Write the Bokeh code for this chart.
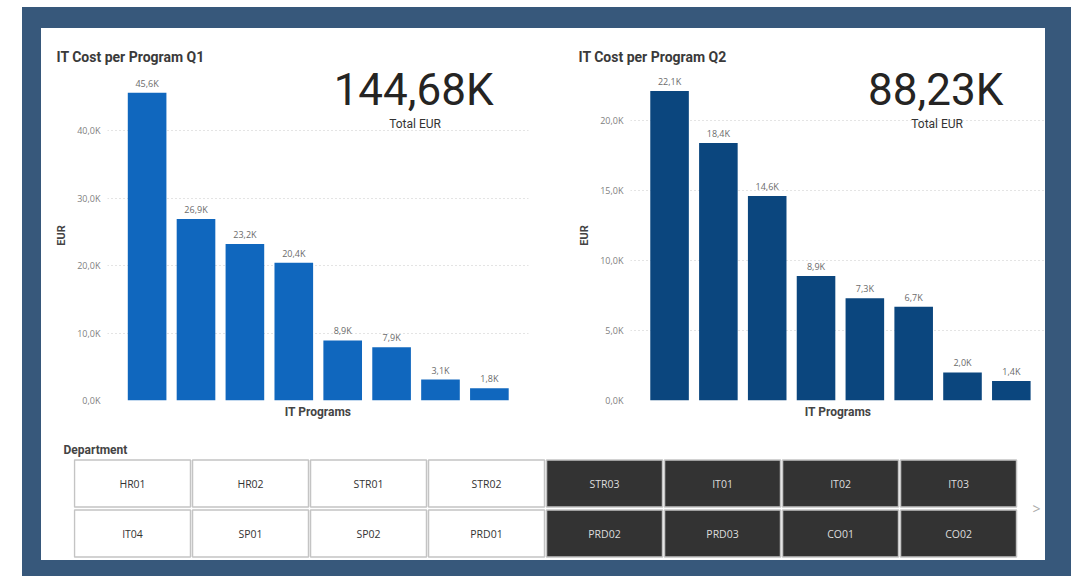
from bokeh.plotting import figure
from bokeh.models import Range1d, FixedTicker, CustomJSTickFormatter, Label, Spacer, ColumnDataSource
from bokeh.layouts import row, column
from bokeh.core.properties import value
from bokeh.embed import file_html
from bokeh.resources import INLINE

# ---------------- data ----------------
q1_values = [45.6, 26.9, 23.2, 20.4, 8.9, 7.9, 3.1, 1.8]      # thousand EUR
q2_values = [22.1, 18.4, 14.6, 8.9, 7.3, 6.7, 2.0, 1.4]       # thousand EUR
q1_total = 144.68
q2_total = 88.23
q1_ticks = [0, 10, 20, 30, 40]
q2_ticks = [0, 5, 10, 15, 20]
departments = ["HR01", "HR02", "STR01", "STR02", "STR03", "IT01", "IT02", "IT03",
               "IT04", "SP01", "SP02", "PRD01", "PRD02", "PRD03", "CO01", "CO02"]
selected = ["STR03", "IT01", "IT02", "IT03", "PRD02", "PRD03", "CO01", "CO02"]

BLUE_FRAME = "#37587b"
TITLE_FONT = "Roboto"
TEXT_FONT = "Open Sans"


def kfmt(v, digits=1):
    return f"{v:.{digits}f}".replace(".", ",") + "K"


def clean(p):
    p.outline_line_color = None
    p.outline_line_alpha = 0
    p.border_fill_color = "white"
    p.background_fill_color = "white"


def chart(title, values, total, color, x_start, x_end, y_end, ticks, width, min_left, min_right):
    p = figure(width=width, height=402,
               x_range=Range1d(x_start, x_end), y_range=Range1d(0, y_end),
               toolbar_location=None, output_backend="svg",
               min_border_left=min_left, min_border_right=min_right,
               min_border_top=42, min_border_bottom=30, title=title)
    clean(p)
    p.title.text_font = TITLE_FONT
    p.title.text_font_size = "14px"
    p.title.text_font_style = "bold"
    p.title.text_color = "#3a3a3a"
    p.title.align = "left"
    p.title.offset = -(min_left - 15)
    p.title.standoff = 11

    src = ColumnDataSource(dict(x=list(range(len(values))), v=values,
                                lbl=[kfmt(v) for v in values]))
    p.vbar(x="x", top="v", width=0.79, source=src, fill_color=color, line_color=None)
    p.text(x="x", y="v", text="lbl", source=src, text_align="center",
           text_baseline="bottom", y_offset=-3, text_font_size="9px",
           text_color="#6b6b6b", text_font=value(TEXT_FONT))

    # KPI card
    p.add_layout(Label(x=5.45, y=y_end * 0.9424, text=kfmt(total, 2), text_align="center",
                       text_baseline="alphabetic", text_font=TITLE_FONT,
                       text_font_size="44px", text_color="#252423"))
    p.add_layout(Label(x=5.48, y=y_end * 0.839, text="Total EUR", text_align="center",
                       text_baseline="middle", text_font=TITLE_FONT,
                       text_font_size="12px", text_color="#333333"))

    # axes
    p.xaxis.ticker = FixedTicker(ticks=[])
    p.xaxis.axis_line_color = None
    p.xaxis.major_tick_line_color = None
    p.xaxis.minor_tick_line_color = None
    p.xaxis.major_tick_out = 0
    p.xaxis.major_label_standoff = 0
    p.xaxis.major_label_text_font_size = "0px"
    p.xaxis.axis_label = "IT Programs"
    p.xaxis.axis_label_standoff = 4
    p.xaxis.axis_label_text_font = TITLE_FONT
    p.xaxis.axis_label_text_font_size = "12px"
    p.xaxis.axis_label_text_font_style = "bold"
    p.xaxis.axis_label_text_color = "#444444"

    p.yaxis.ticker = FixedTicker(ticks=ticks)
    p.yaxis.formatter = CustomJSTickFormatter(code="return tick.toFixed(1).replace('.', ',') + 'K';")
    p.yaxis.axis_line_color = None
    p.yaxis.major_tick_line_color = None
    p.yaxis.minor_tick_line_color = None
    p.yaxis.major_tick_out = 0
    p.yaxis.major_tick_in = 0
    p.yaxis.major_label_standoff = 7
    p.yaxis.major_label_text_font = TEXT_FONT
    p.yaxis.major_label_text_font_size = "9px"
    p.yaxis.major_label_text_color = "#808080"
    p.yaxis.axis_label = "EUR"
    p.yaxis.axis_label_standoff = 6
    p.yaxis.axis_label_text_font = TITLE_FONT
    p.yaxis.axis_label_text_font_size = "11px"
    p.yaxis.axis_label_text_font_style = "bold"
    p.yaxis.axis_label_text_color = "#444444"

    p.xgrid.visible = False
    p.ygrid.ticker = FixedTicker(ticks=ticks)
    p.ygrid.grid_line_dash = "1 3"
    p.ygrid.grid_line_color = "#c8c8c8"
    return p


q1 = chart("IT Cost per Program Q1", q1_values, q1_total, "#1067be",
           -0.81, 7.80, 48.9, q1_ticks, 522, 66, 35)
q2 = chart("IT Cost per Program Q2", q2_values, q2_total, "#0b467e",
           -0.80, 7.70, 23.57, q2_ticks, 482, 67, 0)

# ---------------- department slicer ----------------
ncol = 8
cols = [i % ncol for i in range(len(departments))]
rows = [i // ncol for i in range(len(departments))]
is_sel = [d in selected for d in departments]
ssrc = ColumnDataSource(dict(
    cx=[c + 0.5 for c in cols], cy=[r + 0.5 for r in rows], name=departments,
    fill=["#333333" if s else "#ffffff" for s in is_sel],
    tc=["#dddddd" if s else "#333333" for s in is_sel]))

s = figure(width=1004, height=130, x_range=Range1d(0, 8.237), y_range=Range1d(2, 0),
           toolbar_location=None, output_backend="svg",
           min_border_left=32, min_border_right=0, min_border_top=28, min_border_bottom=2,
           x_axis_type=None, y_axis_type=None, title="Department")
clean(s)
s.title.text_font = TITLE_FONT
s.title.text_font_size = "12px"
s.title.text_font_style = "bold"
s.title.text_color = "#444444"
s.title.align = "left"
s.title.offset = -10
s.title.standoff = 4
s.grid.visible = False
s.rect(x="cx", y="cy", width=0.983, height=0.94, source=ssrc, fill_color="fill",
       line_color="#c4c4c4", line_width=1.5)
s.text(x="cx", y="cy", text="name", source=ssrc, text_color="tc", text_align="center",
       text_baseline="middle", text_font_size="10.5px", text_font=value(TEXT_FONT))
s.text(x=[8.16], y=[1.0], text=[">"], text_color="#aaaaaa", text_align="center",
       text_baseline="middle", text_font_size="14px", text_font=value(TEXT_FONT))

# ---------------- frame layout ----------------
def strip(w, h):
    return Spacer(width=w, height=h, styles={"background-color": BLUE_FRAME})

panel = column(row(q1, q2), s, styles={"background-color": "white"})
outer = column(strip(1049, 21),
               row(strip(19, 532), panel, strip(26, 532)),
               strip(1049, 16))
page = column(Spacer(width=1071, height=7),
              row(Spacer(width=22, height=569), outer))

open("out.html", "w").write(file_html(page, INLINE))
